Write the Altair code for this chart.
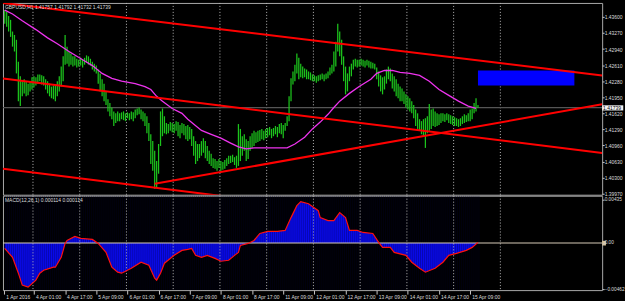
import json
import altair as alt
import pandas as pd

# ---------------- data ----------------
high = [
    1.4374, 1.4370, 1.4362, 1.4354, 1.4330, 1.4323, 1.4313, 1.4268, 1.4238, 1.4228,
    1.4232, 1.4228, 1.4223, 1.4228, 1.4236, 1.4238, 1.4236, 1.4242, 1.4242, 1.4240,
    1.4238, 1.4232, 1.4228, 1.4223, 1.4217, 1.4219, 1.4219, 1.4228, 1.4238, 1.4258,
    1.4279, 1.4323, 1.4299, 1.4289, 1.4285, 1.4279, 1.4279, 1.4274, 1.4272, 1.4276,
    1.4272, 1.4276, 1.4281, 1.4279, 1.4274, 1.4268, 1.4264, 1.4260, 1.4252, 1.4244,
    1.4232, 1.4223, 1.4207, 1.4191, 1.4183, 1.4174, 1.4166, 1.4162, 1.4166, 1.4162,
    1.4164, 1.4166, 1.4162, 1.4164, 1.4162, 1.4166, 1.4164, 1.4170, 1.4172, 1.4174,
    1.4170, 1.4166, 1.4162, 1.4156, 1.4142, 1.4119, 1.4105, 1.4085, 1.4064, 1.4099,
    1.4166, 1.4172, 1.4156, 1.4142, 1.4140, 1.4144, 1.4142, 1.4140, 1.4146, 1.4144,
    1.4138, 1.4142, 1.4140, 1.4136, 1.4138, 1.4134, 1.4130, 1.4115, 1.4105, 1.4099,
    1.4099, 1.4105, 1.4111, 1.4105, 1.4095, 1.4085, 1.4079, 1.4070, 1.4068, 1.4064,
    1.4068, 1.4064, 1.4062, 1.4066, 1.4070, 1.4075, 1.4075, 1.4077, 1.4072, 1.4075,
    1.4140, 1.4130, 1.4115, 1.4119, 1.4109, 1.4105, 1.4115, 1.4121, 1.4126, 1.4123,
    1.4126, 1.4128, 1.4130, 1.4126, 1.4130, 1.4132, 1.4134, 1.4130, 1.4132, 1.4136,
    1.4134, 1.4140, 1.4142, 1.4138, 1.4142, 1.4156, 1.4197, 1.4234, 1.4248, 1.4262,
    1.4285, 1.4276, 1.4264, 1.4258, 1.4254, 1.4252, 1.4248, 1.4246, 1.4242, 1.4240,
    1.4238, 1.4240, 1.4242, 1.4244, 1.4242, 1.4244, 1.4248, 1.4256, 1.4262, 1.4289,
    1.4309, 1.4346, 1.4330, 1.4313, 1.4279, 1.4258, 1.4244, 1.4258, 1.4264, 1.4272,
    1.4274, 1.4272, 1.4272, 1.4274, 1.4272, 1.4270, 1.4272, 1.4270, 1.4268, 1.4266,
    1.4264, 1.4256, 1.4248, 1.4240, 1.4236, 1.4238, 1.4252, 1.4258, 1.4254, 1.4244,
    1.4238, 1.4232, 1.4223, 1.4217, 1.4213, 1.4207, 1.4201, 1.4197, 1.4193, 1.4187,
    1.4179, 1.4170, 1.4162, 1.4150, 1.4146, 1.4150, 1.4152, 1.4156, 1.4181, 1.4170,
    1.4172, 1.4166, 1.4162, 1.4160, 1.4162, 1.4162, 1.4160, 1.4162, 1.4160, 1.4158,
    1.4156, 1.4154, 1.4152, 1.4150, 1.4152, 1.4156, 1.4160, 1.4158, 1.4162, 1.4170,
    1.4172, 1.4183, 1.4193, 1.4179,
]
low = [
    1.4346, 1.4340, 1.4330, 1.4319, 1.4299, 1.4289, 1.4244, 1.4187, 1.4177, 1.4197,
    1.4203, 1.4197, 1.4199, 1.4207, 1.4211, 1.4215, 1.4219, 1.4223, 1.4228, 1.4221,
    1.4219, 1.4211, 1.4203, 1.4197, 1.4193, 1.4191, 1.4187, 1.4197, 1.4207, 1.4217,
    1.4228, 1.4262, 1.4264, 1.4258, 1.4262, 1.4258, 1.4260, 1.4256, 1.4258, 1.4260,
    1.4256, 1.4262, 1.4266, 1.4262, 1.4260, 1.4252, 1.4248, 1.4244, 1.4223, 1.4207,
    1.4197, 1.4187, 1.4179, 1.4166, 1.4156, 1.4150, 1.4136, 1.4142, 1.4146, 1.4146,
    1.4150, 1.4148, 1.4146, 1.4152, 1.4148, 1.4150, 1.4146, 1.4152, 1.4158, 1.4160,
    1.4150, 1.4146, 1.4136, 1.4121, 1.4105, 1.4058, 1.4044, 1.4007, 1.4011, 1.4038,
    1.4095, 1.4115, 1.4121, 1.4119, 1.4121, 1.4126, 1.4123, 1.4121, 1.4126, 1.4115,
    1.4111, 1.4121, 1.4117, 1.4109, 1.4105, 1.4109, 1.4095, 1.4075, 1.4058, 1.4064,
    1.4070, 1.4075, 1.4081, 1.4070, 1.4064, 1.4058, 1.4054, 1.4050, 1.4048, 1.4044,
    1.4050, 1.4044, 1.4046, 1.4048, 1.4054, 1.4058, 1.4060, 1.4062, 1.4056, 1.4050,
    1.4054, 1.4064, 1.4075, 1.4085, 1.4064, 1.4068, 1.4085, 1.4091, 1.4095, 1.4101,
    1.4103, 1.4105, 1.4109, 1.4107, 1.4111, 1.4113, 1.4117, 1.4111, 1.4115, 1.4119,
    1.4113, 1.4121, 1.4119, 1.4111, 1.4126, 1.4136, 1.4146, 1.4187, 1.4221, 1.4228,
    1.4244, 1.4232, 1.4236, 1.4234, 1.4236, 1.4232, 1.4232, 1.4230, 1.4228, 1.4228,
    1.4225, 1.4228, 1.4230, 1.4232, 1.4228, 1.4232, 1.4234, 1.4240, 1.4244, 1.4248,
    1.4258, 1.4289, 1.4279, 1.4262, 1.4228, 1.4201, 1.4207, 1.4228, 1.4238, 1.4252,
    1.4258, 1.4256, 1.4258, 1.4260, 1.4258, 1.4256, 1.4260, 1.4256, 1.4254, 1.4254,
    1.4252, 1.4232, 1.4217, 1.4207, 1.4201, 1.4211, 1.4223, 1.4232, 1.4228, 1.4213,
    1.4207, 1.4197, 1.4193, 1.4187, 1.4187, 1.4181, 1.4174, 1.4170, 1.4166, 1.4162,
    1.4152, 1.4136, 1.4130, 1.4126, 1.4119, 1.4115, 1.4091, 1.4121, 1.4126, 1.4130,
    1.4136, 1.4134, 1.4136, 1.4138, 1.4142, 1.4146, 1.4144, 1.4148, 1.4142, 1.4140,
    1.4138, 1.4136, 1.4136, 1.4134, 1.4136, 1.4140, 1.4142, 1.4144, 1.4146, 1.4146,
    1.4150, 1.4162, 1.4166, 1.4173,
]

ma_i = [1, 5, 10, 17, 23, 28, 34, 41, 46, 51, 56, 61, 68, 73, 76, 79, 82, 87, 92, 95,
        102, 107, 112, 117, 121, 125, 129, 138, 146, 150, 155, 159, 163, 167, 170, 173,
        178, 183, 189, 192, 196, 200, 204, 209, 214, 219, 224, 229, 234, 239, 243]
ma_v = [1.4374, 1.4366, 1.4352, 1.4334, 1.4317, 1.4305, 1.4289, 1.4272, 1.4260, 1.4244,
        1.4234, 1.4228, 1.4223, 1.4217, 1.4211, 1.4197, 1.4187, 1.4172, 1.4162, 1.4150,
        1.4127, 1.4119, 1.4111, 1.4101, 1.4093, 1.4089, 1.4091, 1.4091, 1.4091, 1.4099,
        1.4113, 1.4130, 1.4144, 1.4160, 1.4174, 1.4187, 1.4203, 1.4217, 1.4232, 1.4244,
        1.4250, 1.4250, 1.4246, 1.4244, 1.4240, 1.4228, 1.4211, 1.4199, 1.4187, 1.4177,
        1.4172]

macd_i = [1, 5, 8, 10, 13, 17, 19, 21, 26, 27, 30, 32, 33, 37, 40, 46, 49, 53, 56, 59,
          61, 66, 71, 75, 78, 79, 81, 83, 88, 92, 95, 97, 99, 102, 105, 109, 112, 116,
          119, 121, 122, 126, 129, 132, 136, 141, 145, 148, 151, 153, 157, 162, 163, 167,
          170, 173, 176, 178, 182, 185, 190, 193, 195, 199, 201, 207, 210, 214, 217, 222,
          226, 229, 233, 238, 241, 244]
macd_v = [-0.00054, -0.00144, -0.00303, -0.00423, -0.00443, -0.00373, -0.00303, -0.00273,
          -0.00243, -0.00243, -0.00144, -0.00004, 0.00026, 0.00066, 0.00046, 0.00036,
          -0.00004, -0.00094, -0.00243, -0.00293, -0.00303, -0.00253, -0.00193, -0.00223,
          -0.00353, -0.00373, -0.00303, -0.00203, -0.00124, -0.00074, -0.00064, -0.00054,
          -0.00124, -0.00144, -0.00124, -0.00154, -0.00183, -0.00173, -0.00124, -0.00094,
          -0.00024, -0.00004, 0.00026, 0.00096, 0.00116, 0.00116, 0.00126, 0.00255,
          0.00375, 0.00415, 0.00395, 0.00325, 0.00255, 0.00225, 0.00225, 0.00305, 0.00255,
          0.00126, 0.00126, 0.00106, 0.00096, 0.00006, -0.00044, -0.00044, -0.00094,
          -0.00124, -0.00193, -0.00253, -0.00293, -0.00253, -0.00193, -0.00124, -0.00104,
          -0.00074, -0.00044, 0.00006]

# trend lines: (line id, bar index, price)
tl_id = ["a", "a", "b", "b", "c", "c", "d", "d"]
tl_i = [0.1, 307.76, 0.1, 307.76, 0.1, 127.65, 78, 307.76]
tl_p = [1.43887, 1.42397, 1.42336, 1.40806, 1.40480, 1.39847, 1.40174, 1.41806]

zone_i = [244]
zone_i2 = [293.5]
zone_top = [1.42499]
zone_bot = [1.42193]

bid = [1.41739]
grid_i = [15.5, 39.5, 63.5, 87.5, 111.5, 135.5, 159.5, 183.5, 207.5, 231.5, 255.5]

time_ticks = [0.8, 16, 32, 48, 64, 80, 96, 112, 128, 144, 160, 176, 192, 208, 224, 240]
time_labels = ["1 Apr 2016", "4 Apr 01:00", "4 Apr 17:00", "5 Apr 09:00", "6 Apr 01:00",
               "6 Apr 17:00", "7 Apr 09:00", "8 Apr 01:00", "8 Apr 17:00", "11 Apr 09:00",
               "12 Apr 01:00", "12 Apr 17:00", "13 Apr 09:00", "14 Apr 01:00",
               "14 Apr 17:00", "15 Apr 09:00"]
price_ticks = [1.3997, 1.4030, 1.4063, 1.4096, 1.4129, 1.4162, 1.4195, 1.4228, 1.4261,
               1.4294, 1.4327, 1.4360]
macd_ticks = [-0.00462, 0.0, 0.00435]

title_txt = "GBPUSD,H1  1.41757 1.41792 1.41732 1.41739"
macd_txt = "MACD(12,26,1) 0.000114 0.000114"

# ---------------- frames ----------------
bars = pd.DataFrame({"i": list(range(1, len(high) + 1)), "high": high, "low": low})
ma = pd.DataFrame({"i": ma_i, "p": ma_v})
macd = pd.DataFrame({"i": macd_i, "v": macd_v, "z": [0.0] * len(macd_i)})
tl = pd.DataFrame({"id": tl_id, "i": tl_i, "p": tl_p})
zone = pd.DataFrame({"i": zone_i, "i2": zone_i2, "t": zone_top, "b": zone_bot})
bidf = pd.DataFrame({"p": bid, "lab": ["%.5f" % bid[0]], "x0": [307.76], "x1": [318.6],
                     "pt": [1.41785], "pb": [1.41679], "xt": [308.2]})
zerof = pd.DataFrame({"z": [0.0], "x0": [307.76], "x1": [309.7], "t": [0.00022],
                      "b": [-0.00025]})
gridf = pd.DataFrame({"i": grid_i})

FONT = "Liberation Sans"
TXT = "#dcdcdc"
xs = alt.Scale(domain=[0.1, 307.76], nice=False, zero=False)
ys = alt.Scale(domain=[1.39949, 1.43887], nice=False, zero=False)
ms = alt.Scale(domain=[-0.00473, 0.00475], nice=False, zero=False)

y_axis = alt.Axis(orient="right", values=price_ticks, format=".5f", grid=False,
                  domain=False, tickSize=2, tickColor="#c8c8c8", labelColor=TXT,
                  labelFontSize=5, labelFont=FONT, labelPadding=0, labelFlush=False,
                  labelOverlap=False, labelBound=False)
m_axis = alt.Axis(orient="right", values=macd_ticks, grid=False, domain=False,
                  labelExpr="datum.value == 0 ? '0.00' : format(datum.value, '.5f')",
                  tickSize=2, tickColor="#c8c8c8", labelColor=TXT, labelFontSize=4.8,
                  labelFont=FONT, labelPadding=0, labelFlush=False, labelOverlap=False,
                  zindex=1)
x_axis = alt.Axis(orient="bottom", values=time_ticks, grid=False, domain=False,
                  labelExpr=json.dumps(time_labels) + "[round(datum.value / 16)]",
                  labelAlign="left", labelOffset=1.5, labelBaseline="top",
                  tickSize=4, tickColor="#c8c8c8", labelColor=TXT, labelFontSize=5,
                  labelFont=FONT, labelPadding=0, labelFlush=False, labelOverlap=False)


def X(f, axis=None):
    return alt.X(f, type="quantitative", scale=xs, axis=axis, title=None)


def YP(f):
    return alt.Y(f, type="quantitative", scale=ys, axis=y_axis, title=None)


def YM(f):
    return alt.Y(f, type="quantitative", scale=ms, axis=m_axis, title=None)


# ---------------- price panel ----------------
p_grid = alt.Chart(gridf).mark_rule(color="#b8b8b8", strokeDash=[1, 2], strokeWidth=1).encode(
    x=X("i"))
p_bid = alt.Chart(bidf).mark_rule(color="#555555", strokeWidth=1.2).encode(y=YP("p"))
p_bars = alt.Chart(bars).mark_rule(color="#1cc41c", strokeWidth=1.25).encode(
    x=X("i"), y=YP("low"), y2="high")
p_ma = alt.Chart(ma).mark_line(color="#ee33ee", strokeWidth=1.3).encode(x=X("i"), y=YP("p"))
p_zone = alt.Chart(zone).mark_rect(color="#0000ff").encode(
    x=X("i"), x2="i2", y=YP("t"), y2="b")
p_tl = alt.Chart(tl).mark_line(color="#ff0000", strokeWidth=2, clip=True).encode(
    x=X("i"), y=YP("p"), detail="id:N")
p_box = alt.Chart(bidf).mark_rect(color="#f2f2f2").encode(
    x=X("x0"), x2="x1", y=YP("pt"), y2="pb")
p_boxt = alt.Chart(bidf).mark_text(align="left", baseline="middle", fontSize=5, font=FONT,
                                   color="#000000").encode(x=X("xt"), y=YP("p"), text="lab:N")
p_title = alt.Chart(pd.DataFrame({"t": [title_txt]})).mark_text(
    align="left", baseline="middle", fontSize=5, font=FONT, color=TXT).encode(
    x=alt.value(2), y=alt.value(4), text="t:N")

price = alt.layer(p_grid, p_bid, p_bars, p_ma, p_zone, p_tl, p_box, p_boxt, p_title).properties(
    width=603, height=193)

# ---------------- MACD panel ----------------
m_area = alt.Chart(macd).mark_area(color="#0a0af0", opacity=1).encode(
    x=X("i", x_axis), y=YM("v"), y2="z")
m_stripes = alt.Chart(bars).transform_calculate(s="datum.i + 0.5").mark_rule(
    color="#000030", strokeWidth=0.6, opacity=0.55).encode(x=X("s:Q", x_axis))
m_grid = alt.Chart(gridf).mark_rule(color="#b8b8b8", strokeDash=[1, 2], strokeWidth=1).encode(
    x=X("i", x_axis))
m_zero = alt.Chart(pd.DataFrame({"z": [0.0]})).mark_rule(color="#d8ccb8", strokeWidth=1).encode(
    y=YM("z"))
m_zbox = alt.Chart(zerof).mark_rect(color="#d8c49c").encode(
    x=X("x0", x_axis), x2="x1", y=YM("t"), y2="b")
m_line = alt.Chart(macd).mark_line(color="#ff1010", strokeWidth=1.2).encode(
    x=X("i", x_axis), y=YM("v"))
m_title = alt.Chart(pd.DataFrame({"t": [macd_txt]})).mark_text(
    align="left", baseline="middle", fontSize=5, font=FONT, color=TXT).encode(
    x=alt.value(2), y=alt.value(4.5), text="t:N")

macd_panel = alt.layer(m_area, m_stripes, m_grid, m_zero, m_zbox, m_line, m_title).properties(
    width=603, height=95)

chart = alt.vconcat(price, macd_panel, spacing=1, bounds="flush").resolve_scale(
    x="independent", y="independent").configure(
    background="#000000", padding={"left": 1, "top": 1, "right": 0, "bottom": 0}
).configure_view(stroke="#a8a8a8", strokeWidth=1)

chart.save("out.html", embed_options={"renderer": "svg", "actions": False})
